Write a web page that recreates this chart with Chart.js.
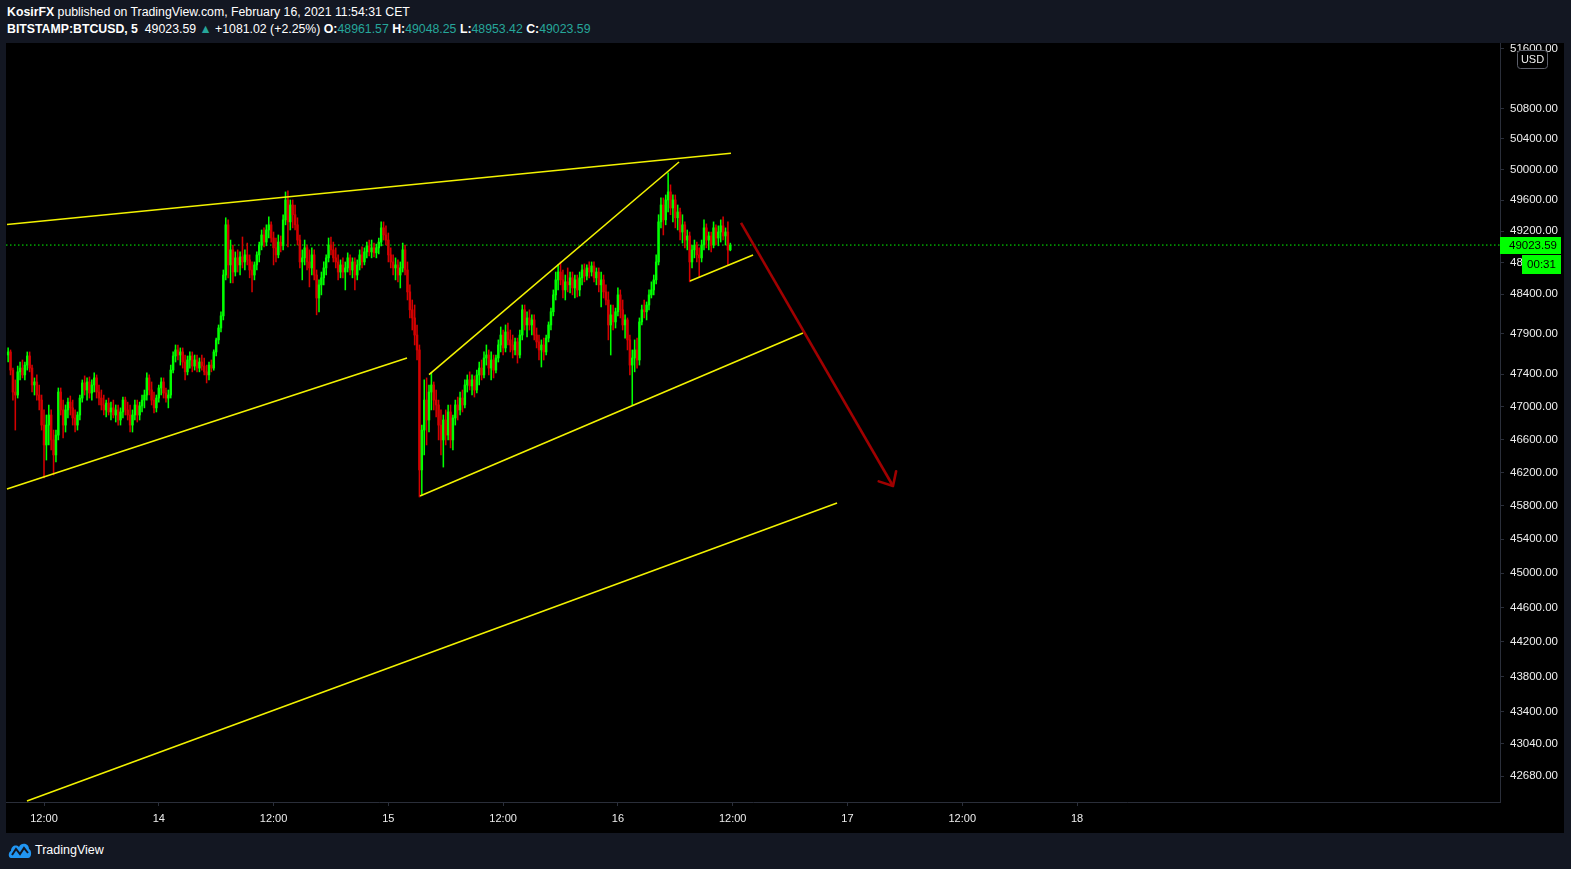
<!DOCTYPE html>
<html>
<head>
<meta charset="utf-8">
<script src="https://cdn.jsdelivr.net/npm/chart.js@4.4.1/dist/chart.umd.min.js"></script>
<style>
html,body{margin:0;padding:0;width:1571px;height:869px;overflow:hidden;background:#131722;font-family:"Liberation Sans",Arial,sans-serif;}
#hdr{position:absolute;left:7px;top:4px;color:#ffffff;font-size:12.3px;line-height:17px;white-space:nowrap;}
#hdr b{font-weight:bold;}
.teal{color:#26a69a;}
#wrap{position:absolute;left:6px;top:43px;width:1558px;height:790px;background:#000000;}
#foot{position:absolute;left:8px;top:840px;height:20px;display:flex;align-items:center;color:#ffffff;font-size:12.5px;}
#foot svg{margin-right:3px;}
</style>
</head>
<body>
<div id="hdr">
<div><b>KosirFX</b> published on TradingView.com, February 16, 2021 11:54:31 CET</div>
<div><b>BITSTAMP:BTCUSD, 5</b>&nbsp; 49023.59 <span class="teal">▲</span> +1081.02 (+2.25%) <b>O:</b><span class="teal">48961.57</span> <b>H:</b><span class="teal">49048.25</span> <b>L:</b><span class="teal">48953.42</span> <b>C:</b><span class="teal">49023.59</span></div>
</div>
<div id="wrap"><canvas id="c" width="1558" height="790"></canvas></div>
<div id="foot"><svg width="24" height="18" viewBox="0 0 24 18"><path d="M3 17 C0 17 0 11 3 10 C3 5 8 3 11 6 C13 1 21 2 21 8 C24 9 24 17 20 17 Z" fill="#2196f3"/><path d="M4 14 L8 8 L12 13 L16 7 L20 12" stroke="#131722" stroke-width="2" fill="none"/></svg><span>TradingView</span></div>
<script>
// ---- time axis (hours from 13 Feb 2021 00:00) ----
const candleStartHour = 8.25;   // 13 Feb 08:15
const candleStepHours = 0.25;   // 15-minute candles
const xTickValues = [12, 24, 36, 48, 60, 72, 84, 96, 108, 120];
const xTickLabels = ['12:00', '14', '12:00', '15', '12:00', '16', '12:00', '17', '12:00', '18'];
const yTickValues = [42680, 43040, 43400, 43800, 44200, 44600, 45000, 45400, 45800, 46200, 46600, 47000, 47400, 47900, 48400, 48800, 49200, 49600, 50000, 50400, 50800, 51600];

// ---- BITSTAMP:BTCUSD candles ----
const opens = [
47637,47675,47450,47179,47142,47428,47475,47390,47512,47625,
47475,47266,47303,47142,47080,46774,46532,46774,46897,46593,
46411,46652,47179,46959,46774,46959,47055,46984,46861,46774,
46897,47105,47291,47204,47303,47167,47266,47353,47179,47105,
47020,46959,47043,46934,46984,46897,46959,46836,46934,47080,
46959,46897,46774,46897,47020,46897,47008,47080,47142,47353,
47204,47080,46984,47105,47229,47303,47167,47105,47142,47450,
47625,47700,47637,47675,47550,47428,47575,47625,47500,47575,
47475,47550,47500,47428,47390,47512,47475,47675,47825,47974,
48126,48642,49283,48770,48962,48680,48860,48770,48872,48808,
48898,48834,48706,48642,48770,48898,49024,49153,49062,49217,
49283,49114,48988,48898,49062,49014,49347,49604,49321,49539,
49413,49283,49088,48808,48860,48988,48808,48732,48898,48642,
48351,48517,48606,48732,48860,49024,48962,48860,48808,48680,
48770,48680,48732,48860,48706,48808,48642,48770,48898,48808,
48936,49014,48936,48988,48924,48988,49062,49244,49153,49088,
48898,48808,48732,48770,48642,48732,48962,48706,48428,48202,
48100,47886,47700,46230,46713,47080,46836,47179,47266,47080,
47020,46774,46593,46836,46652,46934,46593,46861,47020,46959,
47105,47020,47266,47328,47254,47328,47204,47390,47475,47390,
47600,47637,47475,47575,47450,47600,47762,47886,47725,47924,
47825,47762,47700,47800,47637,47886,48202,48012,48100,48012,
48075,47886,47800,47700,47762,47675,47848,48012,48177,48390,
48580,48680,48580,48453,48555,48517,48606,48478,48580,48453,
48606,48706,48629,48732,48680,48757,48606,48680,48517,48580,
48428,48326,48012,48139,48050,48177,48390,48202,48012,48075,
47825,47512,47600,47700,47575,48050,48202,48177,48263,48390,
48453,48580,48808,49321,49539,49347,49604,49708,49500,49604,
49374,49448,49191,49283,49088,49140,48808,48962,49024,48898,
48860,49024,49244,49088,49140,49024,49244,49114,49191,49270,
49140,49191,48962];
const highs = [
47725,47700,47475,47328,47500,47550,47575,47550,47675,47675,
47512,47353,47390,47266,47142,46959,46897,47020,46959,46713,
46713,47229,47229,47080,47020,47105,47130,47080,46959,46934,
47142,47328,47378,47353,47365,47328,47415,47390,47266,47204,
47142,47080,47105,47055,47080,47020,47020,46984,47117,47117,
47055,47020,46959,47080,47080,47055,47142,47204,47415,47390,
47303,47179,47142,47266,47353,47353,47229,47204,47512,47675,
47762,47762,47725,47725,47637,47625,47675,47675,47637,47637,
47600,47637,47600,47512,47550,47575,47700,47848,48012,48177,
48706,49374,49347,49088,49024,48936,48962,48936,49127,48962,
49049,48898,48808,48808,48936,49062,49217,49244,49283,49387,
49321,49191,49114,49153,49140,49413,49708,49721,49604,49604,
49539,49374,49153,48962,49088,49024,48962,48988,48962,48706,
48580,48680,48808,48898,49114,49127,49062,48988,48898,48834,
48860,48808,48924,48898,48860,48860,48834,48962,49001,48988,
49062,49088,49088,49049,49036,49114,49321,49321,49270,49178,
48988,48898,48860,48834,48808,49049,49024,48808,48517,48326,
48263,48012,47762,46774,47328,47353,47266,47415,47303,47204,
47080,46959,46897,46959,47020,47020,46897,47080,47117,47179,
47204,47328,47390,47428,47390,47378,47450,47550,47575,47675,
47762,47700,47675,47637,47637,47825,47987,47949,48012,48037,
47949,47886,47848,47848,47949,48263,48263,48177,48202,48139,
48139,47974,47886,47825,47848,47886,48050,48224,48453,48680,
48770,48808,48706,48642,48732,48680,48680,48642,48642,48680,
48770,48783,48770,48808,48808,48808,48732,48732,48680,48642,
48517,48428,48263,48263,48224,48478,48453,48326,48139,48100,
47886,47700,47825,47848,48100,48263,48326,48301,48453,48555,
48642,48898,49413,49630,49630,49669,49955,49800,49669,49669,
49539,49500,49413,49321,49217,49191,49024,49088,49062,48988,
49088,49347,49295,49191,49191,49321,49283,49270,49347,49387,
49244,49321,49048.25];
const lows = [
47550,47390,47080,46713,47105,47328,47353,47328,47450,47428,
47179,47142,47080,46959,46713,46133,46349,46532,46472,46169,
46325,46593,46897,46618,46689,46861,46897,46774,46689,46713,
46836,47055,47142,47080,47105,47080,47179,47105,47020,46959,
46897,46873,46897,46836,46861,46811,46774,46774,46861,46897,
46836,46689,46689,46836,46811,46836,46934,46984,47080,47142,
47020,46922,46934,47055,47142,47105,47055,46984,47105,47415,
47550,47575,47512,47475,47328,47390,47475,47428,47450,47428,
47428,47450,47390,47291,47328,47428,47450,47625,47775,47924,
48075,48580,48606,48542,48542,48629,48680,48642,48732,48706,
48770,48606,48428,48580,48706,48808,48962,49001,49014,49114,
49062,48770,48808,48860,48936,48962,49283,49001,49217,49244,
49217,49024,48732,48580,48770,48706,48491,48642,48580,48139,
48177,48390,48517,48642,48808,48898,48808,48732,48580,48606,
48606,48453,48680,48642,48606,48453,48580,48706,48732,48770,
48860,48885,48860,48872,48860,48911,49014,49088,49024,48808,
48732,48642,48580,48555,48478,48680,48642,48326,48100,47949,
47762,47575,45904,45928,46411,46532,46689,46959,46959,46873,
46593,46411,46264,46532,46593,46496,46472,46774,46836,46897,
46934,46984,47179,47204,47142,47117,47167,47266,47328,47353,
47512,47390,47328,47353,47415,47550,47675,47637,47675,47762,
47675,47600,47637,47537,47600,47825,47949,47861,47949,47886,
47825,47725,47575,47488,47575,47637,47800,47949,48126,48326,
48453,48517,48351,48326,48428,48415,48390,48351,48364,48377,
48517,48555,48580,48606,48629,48555,48517,48428,48237,48351,
48263,47825,47637,47949,47974,48126,48100,47949,47848,47700,
47390,47020,47428,47475,47512,48012,48100,48075,48202,48351,
48390,48529,48770,49244,49153,49283,49448,49413,49321,49244,
49217,49088,49049,48988,48962,48555,48732,48860,48808,48616,
48808,48962,48988,48962,48936,48988,49024,49014,49062,49088,
49024,48770,48950];
const closes = [
47675,47450,47179,47142,47428,47475,47390,47512,47625,47475,
47266,47303,47142,47080,46774,46532,46774,46897,46593,46411,
46652,47179,46959,46774,46959,47055,46984,46861,46774,46897,
47105,47291,47204,47303,47167,47266,47353,47179,47105,47020,
46959,47043,46934,46984,46897,46959,46836,46934,47080,46959,
46897,46774,46897,47020,46897,47008,47080,47142,47353,47204,
47080,46984,47105,47229,47303,47167,47105,47142,47450,47625,
47700,47637,47675,47550,47428,47575,47625,47500,47575,47475,
47550,47500,47428,47390,47512,47475,47675,47825,47974,48126,
48642,49283,48770,48962,48680,48860,48770,48872,48808,48898,
48834,48706,48642,48770,48898,49024,49153,49062,49217,49283,
49114,48988,48898,49062,49014,49347,49604,49321,49539,49413,
49283,49088,48808,48860,48988,48808,48732,48898,48642,48351,
48517,48606,48732,48860,49024,48962,48860,48808,48680,48770,
48680,48732,48860,48706,48808,48642,48770,48898,48808,48936,
49014,48936,48988,48924,48988,49062,49244,49153,49088,48898,
48808,48732,48770,48642,48732,48962,48706,48428,48202,48100,
47886,47700,46230,46713,47080,46836,47179,47266,47080,47020,
46774,46593,46836,46652,46934,46593,46861,47020,46959,47105,
47020,47266,47328,47254,47328,47204,47390,47475,47390,47600,
47637,47475,47575,47450,47600,47762,47886,47725,47924,47825,
47762,47700,47800,47637,47886,48202,48012,48100,48012,48075,
47886,47800,47700,47762,47675,47848,48012,48177,48390,48580,
48680,48580,48453,48555,48517,48606,48478,48580,48453,48606,
48706,48629,48732,48680,48757,48606,48680,48517,48580,48428,
48326,48012,48139,48050,48177,48390,48202,48012,48075,47825,
47512,47600,47700,47575,48050,48202,48177,48263,48390,48453,
48580,48808,49321,49539,49347,49604,49708,49500,49604,49374,
49448,49191,49283,49088,49140,48808,48962,49024,48898,48860,
49024,49244,49088,49140,49024,49244,49114,49191,49270,49140,
49191,48962,49023.59];
const lastPrice = 49023.59;

// ---- drawings: [startHour, startPrice, endHour, endPrice] ----
const channelTop     = [8.13, 49287, 83.82, 50212];
const leftChannelLow = [8.13, 46000, 49.95, 47600];
const wedgeLow       = [51.31, 45916, 91.35, 47912];
const wedgeHigh      = [52.25, 47395, 78.39, 50098];
const smallSupport   = [79.54, 48566, 86.13, 48897];
const longLow        = [10.22, 42403, 94.91, 45833];
const arrowDown      = [84.87, 49307, 100.76, 46036];

// ---- view range ----
const X_MIN = 8.027, X_MAX = 164.22;
const Y_MIN = 42392, Y_MAX = 51678;

const UP = '#00ff00', DOWN = '#d40000', YEL = '#f2f200', ARROW = '#a00000';
const AXIS = '#2a2e39', TXT = '#eeeeee';
const FONT = '"Liberation Sans", Arial, sans-serif';

const times = opens.map((_, i) => candleStartHour + i * candleStepHours);
const wickData = times.map((t, i) => ({x: t, y: [lows[i], highs[i]]}));
const bodyData = times.map((t, i) => ({x: t, y: [Math.min(opens[i], closes[i]), Math.max(opens[i], closes[i])]}));
const colors = closes.map((c, i) => c >= opens[i] ? UP : DOWN);

function seg(s, color, width, order) {
  return {type: 'line', data: [{x: s[0], y: s[1]}, {x: s[2], y: s[3]}], borderColor: color, borderWidth: width,
    pointRadius: 0, fill: false, tension: 0, order: order};
}

const datasets = [
  {type: 'line', data: [{x: X_MIN, y: lastPrice}, {x: X_MAX, y: lastPrice}], borderColor: UP, borderWidth: 1,
    borderDash: [1.5, 2.5], pointRadius: 0, fill: false, order: 5},
  {type: 'bar', data: wickData, backgroundColor: colors, barThickness: 0.9, grouped: false, order: 3},
  {type: 'bar', data: bodyData, backgroundColor: colors, barThickness: 1.8, grouped: false, minBarLength: 1, order: 2},
  seg(channelTop, YEL, 1.6, 1),
  seg(leftChannelLow, YEL, 1.6, 1),
  seg(wedgeLow, YEL, 1.6, 1),
  seg(wedgeHigh, YEL, 1.6, 1),
  seg(smallSupport, YEL, 1.6, 1),
  seg(longLow, YEL, 1.6, 1),
  seg(arrowDown, ARROW, 2.6, 0)
];
const ARROW_INDEX = datasets.length - 1;

const overlay = {
  id: 'overlay',
  afterDatasetsDraw(chart) {
    const ctx = chart.ctx;
    const meta = chart.getDatasetMeta(ARROW_INDEX);
    const p0 = meta.data[0], p1 = meta.data[1];
    const ang = Math.atan2(p1.y - p0.y, p1.x - p0.x);
    const len = 15, spread = 42 * Math.PI / 180;
    ctx.save();
    ctx.strokeStyle = ARROW; ctx.lineWidth = 2.6; ctx.lineCap = 'round'; ctx.lineJoin = 'round';
    ctx.beginPath();
    ctx.moveTo(p1.x - len * Math.cos(ang - spread), p1.y - len * Math.sin(ang - spread));
    ctx.lineTo(p1.x, p1.y);
    ctx.lineTo(p1.x - len * Math.cos(ang + spread), p1.y - len * Math.sin(ang + spread));
    ctx.stroke();
    ctx.restore();
  },
  afterDraw(chart) {
    const ctx = chart.ctx;
    const ys = chart.scales.y;
    const right = chart.chartArea.right;
    const py = Math.round(ys.getPixelForValue(lastPrice));
    ctx.save();
    ctx.font = '11.5px ' + FONT;
    ctx.textBaseline = 'middle';
    // last price tag
    ctx.fillStyle = UP;
    ctx.fillRect(right, py - 8, 61, 17);
    ctx.fillStyle = '#000000';
    ctx.textAlign = 'left';
    ctx.fillText(lastPrice.toFixed(2), right + 9, py + 0.5);
    // countdown tag
    ctx.fillStyle = UP;
    ctx.fillRect(right + 22, py + 10, 39, 19);
    ctx.fillStyle = '#000000';
    ctx.textAlign = 'center';
    ctx.fillText('00:31', right + 41.5, py + 20);
    // currency box
    ctx.strokeStyle = '#5d606b'; ctx.lineWidth = 1;
    const bx = right + 17.5, by = 7.5, bw = 30, bh = 18, r = 3;
    ctx.beginPath();
    ctx.moveTo(bx + r, by); ctx.lineTo(bx + bw - r, by); ctx.arcTo(bx + bw, by, bx + bw, by + r, r);
    ctx.lineTo(bx + bw, by + bh - r); ctx.arcTo(bx + bw, by + bh, bx + bw - r, by + bh, r);
    ctx.lineTo(bx + r, by + bh); ctx.arcTo(bx, by + bh, bx, by + bh - r, r);
    ctx.lineTo(bx, by + r); ctx.arcTo(bx, by, bx + r, by, r);
    ctx.closePath();
    ctx.fillStyle = '#000000'; ctx.fill(); ctx.stroke();
    ctx.fillStyle = TXT;
    ctx.font = '11px ' + FONT;
    ctx.fillText('USD', bx + bw / 2, by + bh / 2 + 0.5);
    ctx.restore();
  }
};

new Chart(document.getElementById('c'), {
  type: 'bar',
  data: {datasets: datasets},
  plugins: [overlay],
  options: {
    responsive: false,
    animation: false,
    devicePixelRatio: 1,
    layout: {padding: 0},
    events: [],
    plugins: {legend: {display: false}, tooltip: {enabled: false}},
    scales: {
      x: {
        type: 'linear', min: X_MIN, max: X_MAX, bounds: 'data', offset: false,
        grid: {display: true, offset: false, drawOnChartArea: false, drawTicks: true, tickLength: 4, color: AXIS},
        border: {display: true, color: AXIS},
        ticks: {color: TXT, font: {family: FONT, size: 11}, padding: 6, autoSkip: false, maxRotation: 0,
          callback: (v) => { const k = xTickValues.indexOf(v); return k >= 0 ? xTickLabels[k] : ''; }},
        afterBuildTicks: (s) => { s.ticks = xTickValues.map(v => ({value: v})); },
        afterFit: (s) => { s.height = 31; s.paddingLeft = 0; s.paddingRight = 0; }
      },
      y: {
        type: 'logarithmic', position: 'right', min: Y_MIN, max: Y_MAX, bounds: 'data',
        grid: {display: true, drawOnChartArea: false, drawTicks: true, tickLength: 4, color: AXIS},
        border: {display: true, color: AXIS},
        ticks: {color: TXT, font: {family: FONT, size: 11.5}, padding: 6, autoSkip: false,
          callback: (v) => Number(v).toFixed(2)},
        afterBuildTicks: (s) => { s.ticks = yTickValues.map(v => ({value: v})); },
        afterFit: (s) => { s.width = 64; s.paddingTop = 0; s.paddingBottom = 0; }
      }
    }
  }
});
</script>
</body>
</html>
